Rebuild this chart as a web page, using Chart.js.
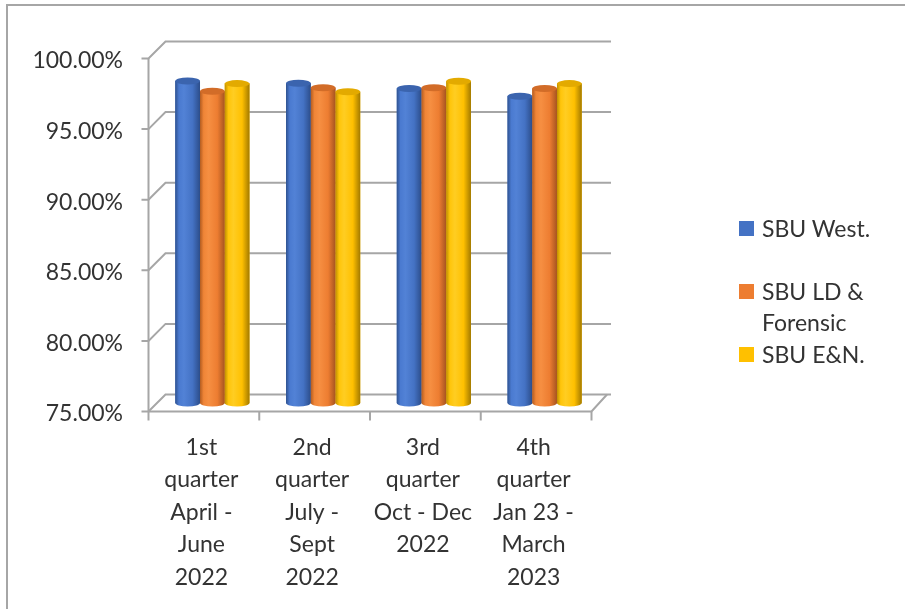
<!DOCTYPE html>
<html>
<head>
<meta charset="utf-8">
<script src="https://cdn.jsdelivr.net/npm/chart.js@4.4.1/dist/chart.umd.min.js"></script>
<style>
html, body { margin: 0; padding: 0; background: #fff; }
#wrap { position: relative; width: 905px; height: 609px; overflow: hidden; }
#frame { position: absolute; left: 6px; top: 4px; width: 1000px; height: 700px; border-left: 2px solid #a6a6a6; border-top: 2px solid #a6a6a6; }
#grafico { position: absolute; left: 0; top: 0; }
#legenda { position: absolute; left: 739px; top: 0; font-family: Lato, sans-serif; font-size: 23px; color: #333; }
.item { position: absolute; left: 0; width: 160px; }
.item .cor { position: absolute; left: 0; top: 8px; width: 15px; height: 15px; }
.item .txt { position: absolute; left: 23px; width: 130px; line-height: 31px; }
</style>
</head>
<body>
<div id="wrap">
  <div id="frame"></div>
  <canvas id="grafico" width="905" height="609"></canvas>
  <div id="legenda"></div>
</div>
<script>
// dados (percentagens)
const trimestres = [
  ['1st', 'quarter', 'April -', 'June', '2022'],
  ['2nd', 'quarter', 'July -', 'Sept', '2022'],
  ['3rd', 'quarter', 'Oct - Dec', '2022'],
  ['4th', 'quarter', 'Jan 23 -', 'March', '2023']
];
const series = ['SBU West.', 'SBU LD & Forensic', 'SBU E&N.'];
const sbu_west = [97.8, 97.65, 97.27, 96.72];
const sbu_ld = [97.08, 97.32, 97.32, 97.27];
const sbu_en = [97.62, 97.04, 97.79, 97.62];
const ticks_y = [75, 80, 85, 90, 95, 100];

const cores = ['#4472c4', '#ed7d31', '#ffc000'];
const degrades = [
  ['#2f528f', '#4a7ad0', '#5282d6', '#4472c4', '#2c4d8a'],
  ['#b35c20', '#f08537', '#f68f42', '#ed7d31', '#a65420'],
  ['#bf8f00', '#ffc50a', '#ffcd22', '#ffc000', '#a37a00']
];
const tampas = ['#3b64ae', '#d26c28', '#e3aa00'];
const linha = '#a6a6a6';
const prof = 8.5; // meia profundidade do efeito 3D

// paredes e chão "3D"
const paredes = {
  id: 'paredes',
  beforeDatasetsDraw(chart) {
    const ctx = chart.ctx;
    const y = chart.scales.y;
    const area = chart.chartArea;
    const frenteX = area.left - prof;
    const fundoX = area.left + prof;
    const direita = area.right + 11;
    ctx.save();
    ctx.strokeStyle = linha;
    ctx.lineWidth = 2;
    ticks_y.forEach(v => {
      const py = y.getPixelForValue(v);
      ctx.beginPath();
      ctx.moveTo(frenteX - 7, py + prof);
      ctx.lineTo(frenteX, py + prof);
      ctx.lineTo(fundoX, py - prof);
      ctx.lineTo(direita, py - prof);
      ctx.stroke();
    });
    // eixo vertical da frente
    ctx.beginPath();
    ctx.moveTo(frenteX, y.getPixelForValue(100) + prof);
    ctx.lineTo(frenteX, y.getPixelForValue(75) + prof);
    ctx.stroke();
    // borda da frente do chão + marcas das categorias
    const base = y.getPixelForValue(75);
    const x = chart.scales.x;
    const passo = (area.right - area.left) / trimestres.length;
    ctx.beginPath();
    ctx.moveTo(frenteX, base + prof);
    ctx.lineTo(area.right - prof, base + prof);
    ctx.lineTo(direita - 4, base - prof);
    ctx.stroke();
    for (let i = 0; i <= trimestres.length; i++) {
      const px = x.getPixelForValue(i) - passo / 2 - prof;
      ctx.beginPath();
      ctx.moveTo(px, base + prof);
      ctx.lineTo(px, base + prof + 9);
      ctx.stroke();
    }
    ctx.restore();
  }
};

// cilindros por cima das barras
const cilindros = {
  id: 'cilindros',
  afterDatasetsDraw(chart) {
    const ctx = chart.ctx;
    chart.data.datasets.forEach((ds, di) => {
      const meta = chart.getDatasetMeta(di);
      meta.data.forEach(bar => {
        const x0 = bar.x - bar.width / 2;
        const x1 = bar.x + bar.width / 2;
        const rx = bar.width / 2;
        const ry = 3.5;
        const g = ctx.createLinearGradient(x0, 0, x1, 0);
        const st = degrades[di];
        g.addColorStop(0, st[0]);
        g.addColorStop(0.15, st[1]);
        g.addColorStop(0.35, st[2]);
        g.addColorStop(0.7, st[3]);
        g.addColorStop(1, st[4]);
        ctx.save();
        ctx.fillStyle = g;
        ctx.beginPath();
        ctx.moveTo(x0, bar.y);
        ctx.lineTo(x0, bar.base);
        ctx.ellipse(bar.x, bar.base, rx, ry, 0, Math.PI, 0, true);
        ctx.lineTo(x1, bar.y);
        ctx.closePath();
        ctx.fill();
        ctx.fillStyle = tampas[di];
        ctx.beginPath();
        ctx.ellipse(bar.x, bar.y, rx, ry, 0, 0, Math.PI * 2);
        ctx.fill();
        ctx.restore();
      });
    });
  }
};

function renderiza_grafico() {
  const ctx = document.getElementById('grafico').getContext('2d');
  Chart.defaults.font.family = 'Lato';
  const valores = [sbu_west, sbu_ld, sbu_en];
  const dados = {
    labels: trimestres,
    datasets: series.map((nome, i) => ({
      label: nome,
      data: valores[i],
      base: 75,
      backgroundColor: cores[i],
      borderWidth: 0,
      barPercentage: 1,
      categoryPercentage: 0.67
    }))
  };
  new Chart(ctx, {
    type: 'bar',
    data: dados,
    options: {
      responsive: false,
      animation: false,
      layout: { padding: { left: 8, right: 305, top: 50, bottom: 0 } },
      plugins: { legend: { display: false }, tooltip: { enabled: false } },
      scales: {
        x: {
          grid: { display: false, drawTicks: false },
          border: { display: false },
          ticks: { font: { size: 23, lineHeight: 32.5 / 23 }, color: '#333', padding: 28, labelOffset: -11, maxRotation: 0, autoSkip: false },
          afterFit: s => { s.height = 206; }
        },
        y: {
          min: 75,
          max: 100,
          grid: { display: false, drawTicks: false },
          border: { display: false },
          ticks: { stepSize: 5, font: { size: 23 }, color: '#333', padding: 34, labelOffset: prof + 2.5, callback: v => v.toFixed(2) + '%' },
          afterFit: s => { s.width = 149; }
        }
      }
    },
    plugins: [paredes, cilindros]
  });

  // legenda em HTML (o texto quebra como no original)
  const topos = [213, 276, 339];
  const leg = document.getElementById('legenda');
  series.forEach((nome, i) => {
    const it = document.createElement('div');
    it.className = 'item';
    it.style.top = topos[i] + 'px';
    it.innerHTML = '<span class="cor" style="background:' + cores[i] + '"></span><span class="txt"></span>';
    it.querySelector('.txt').textContent = nome;
    leg.appendChild(it);
  });
}

window.onload = function () {
  renderiza_grafico();
};
</script>
</body>
</html>
